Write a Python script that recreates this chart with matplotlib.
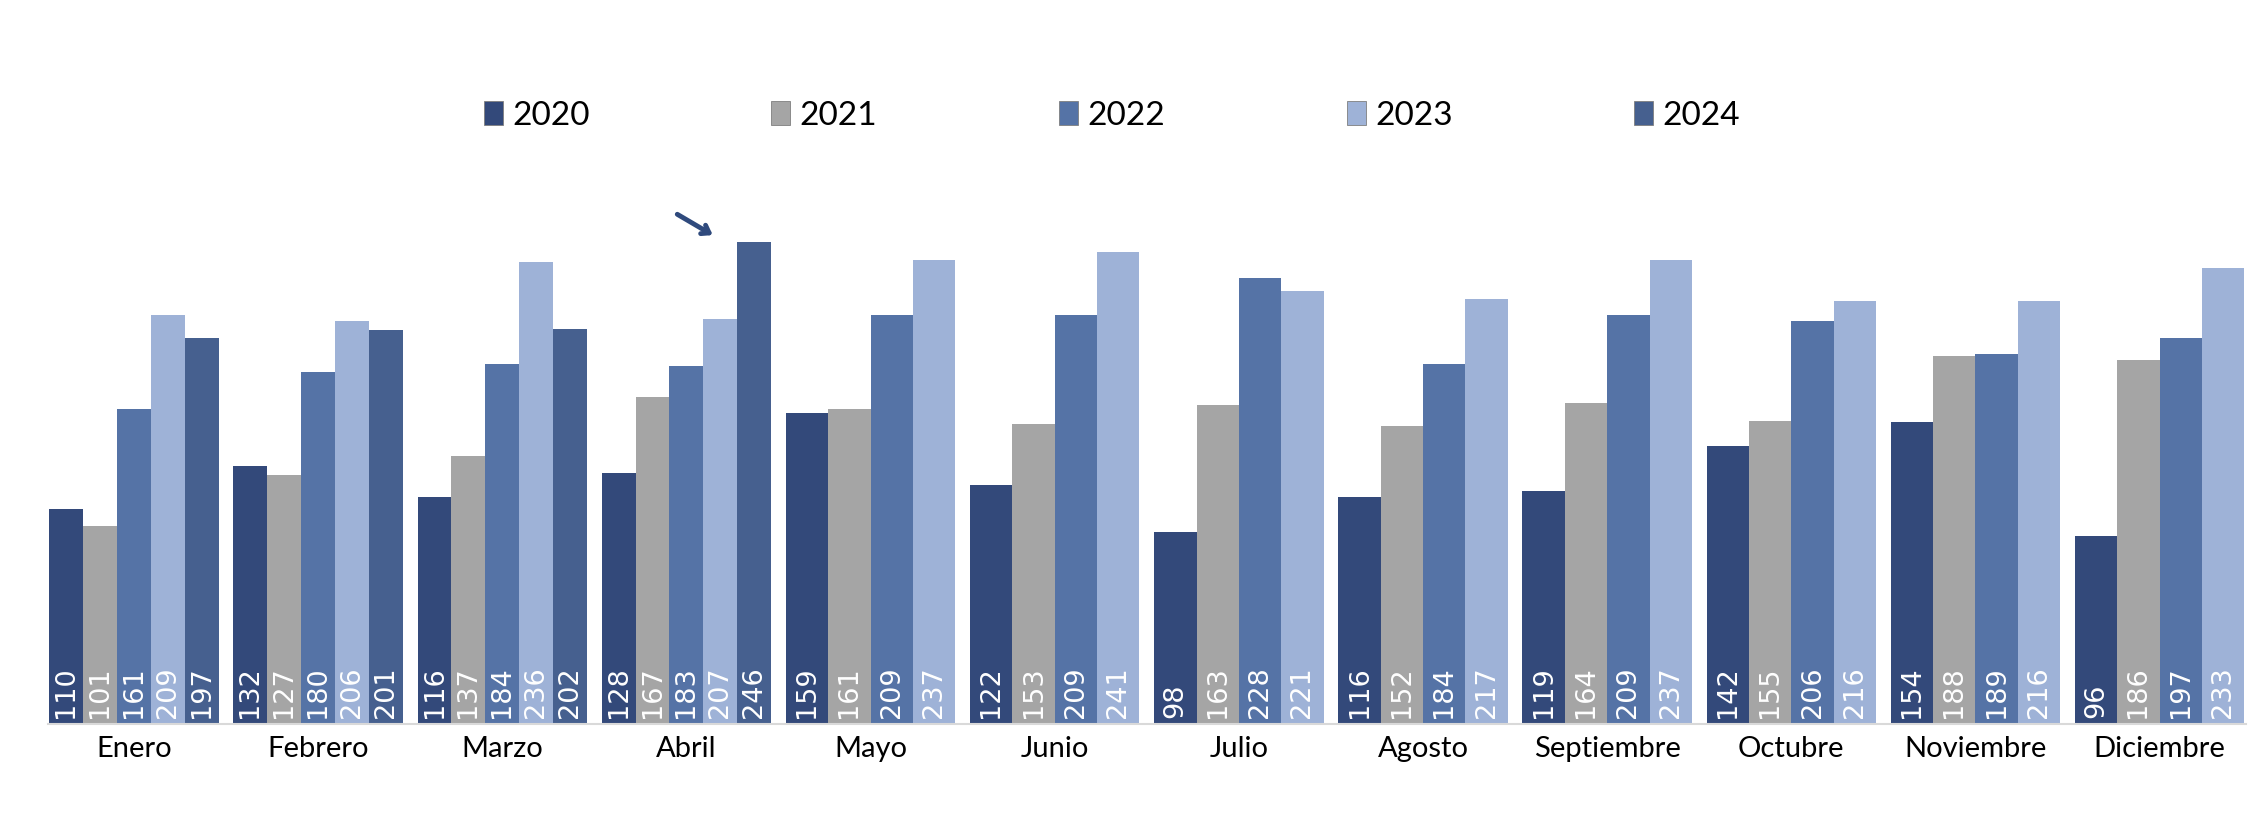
import matplotlib
matplotlib.use('Agg')
import matplotlib.pyplot as plt
import numpy as np
from matplotlib.patches import Patch

# datos
meses = ['Enero', 'Febrero', 'Marzo', 'Abril', 'Mayo', 'Junio', 'Julio',
         'Agosto', 'Septiembre', 'Octubre', 'Noviembre', 'Diciembre']
anios = ['2020', '2021', '2022', '2023', '2024']
v2020 = [110, 132, 116, 128, 159, 122, 98, 116, 119, 142, 154, 96]
v2021 = [101, 127, 137, 167, 161, 153, 163, 152, 164, 155, 188, 186]
v2022 = [161, 180, 184, 183, 209, 209, 228, 184, 209, 206, 189, 197]
v2023 = [209, 206, 236, 207, 237, 241, 221, 217, 237, 216, 216, 233]
v2024 = [197, 201, 202, 246]

series = [v2020, v2021, v2022, v2023, v2024]
colores = ['#33497A', '#A5A5A5', '#5573A6', '#9EB2D7', '#46608F']

fig = plt.figure(figsize=(22.65, 8.39), dpi=100)
ax = fig.add_axes([0.0211, 0.1371, 0.9706, 0.6067])

x = np.arange(len(meses))
# cada mes reparte el ancho del grupo entre las series que tienen dato
nbars = np.array([sum(len(s) > i for s in series) for i in range(len(meses))])
wmes = 0.92 / nbars

for k, (vals, col) in enumerate(zip(series, colores)):
    m = len(vals)
    w = wmes[:m]
    xs = x[:m] - 0.46 + (k + 0.5) * w
    ax.bar(xs, vals, width=w, color=col, edgecolor='none')
    for xi, v in zip(xs, vals):
        ax.annotate(str(v), (xi, 0), xytext=(0, 4), textcoords='offset points',
                    rotation=90, ha='center', va='bottom', color='white',
                    fontsize=19.5, family='DejaVu Sans')

# flecha sobre Abril 2024
xa = x[3] - 0.46 + 4 * wmes[3]
ax.annotate('', xy=(xa - 0.12, v2024[3] + 3), xytext=(-29, 17),
            textcoords='offset points', annotation_clip=False,
            arrowprops=dict(arrowstyle='->,head_length=0.5,head_width=0.35',
                            color='#2F4A7D', lw=3.5))

ax.set_xlim(-0.468, 11.47)
ax.set_ylim(0, 260)
ax.set_xticks(x)
ax.set_xticklabels(meses, fontsize=21, family='Lato')
ax.tick_params(axis='x', length=0, pad=9)
ax.set_yticks([])
for s in ['top', 'right', 'left']:
    ax.spines[s].set_visible(False)
ax.spines['bottom'].set_color('#D9D9D9')
ax.spines['bottom'].set_linewidth(1.5)

handles = [Patch(facecolor=c, edgecolor='#7F7F7F', linewidth=0.6, label=a)
           for c, a in zip(colores, anios)]
fig.legend(handles=handles, loc='center', bbox_to_anchor=(0.491, 0.862),
           ncol=5, frameon=False, prop={'family': 'Lato', 'size': 24},
           handlelength=0.57, handleheight=0.75, handletextpad=0.28,
           columnspacing=5.45)

fig.savefig('out.png', dpi=100)
